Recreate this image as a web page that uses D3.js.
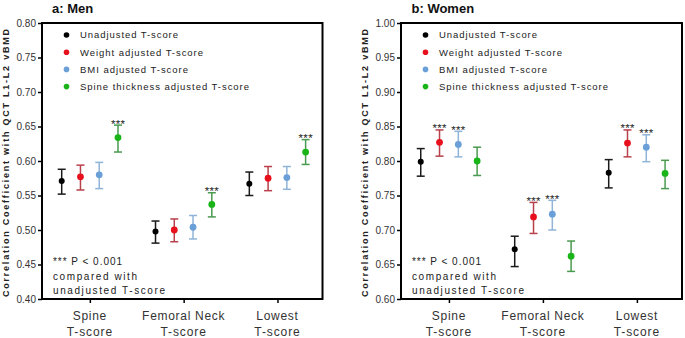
<!DOCTYPE html>
<html>
<head>
<meta charset="utf-8">
<script src="https://cdn.jsdelivr.net/npm/d3@7"></script>
<style>
  html, body { margin: 0; padding: 0; background: #fff; }
  svg { display: block; font-family: "Liberation Sans", Arial, sans-serif; }
</style>
</head>
<body>
<svg id="chart" width="685" height="338"></svg>
<script>
// ---------- DATA ----------
const categoriesLine1 = ["Spine", "Femoral Neck", "Lowest"];
const categoriesLine2 = ["T-score", "T-score", "T-score"];
const seriesNames = ["Unadjusted T-score", "Weight adjusted T-score", "BMI adjusted T-score", "Spine thickness adjusted T-score"];
const seriesPointColors = ["#000000", "#e8101c", "#6a9fd8", "#18b418"];
const seriesBarColors = ["#1a1a1a", "#b8404a", "#8fb4d8", "#4a9a50"];

// Men
const menUnadj      = [0.571, 0.498, 0.567];
const menUnadjLow   = [0.552, 0.481, 0.550];
const menUnadjHigh  = [0.588, 0.513, 0.584];
const menWeight     = [0.577, 0.500, 0.575];
const menWeightLow  = [0.558, 0.483, 0.557];
const menWeightHigh = [0.594, 0.516, 0.592];
const menBmi        = [0.580, 0.504, 0.576];
const menBmiLow     = [0.560, 0.487, 0.559];
const menBmiHigh    = [0.598, 0.521, 0.592];
const menSpine      = [0.634, 0.537, 0.613];
const menSpineLow   = [0.613, 0.519, 0.595];
const menSpineHigh  = [0.652, 0.554, 0.631];
const menSig        = [[0,0,0],[0,0,0],[0,0,0],[1,1,1]];

// Women
const womenUnadj      = [0.799, 0.672, 0.783];
const womenUnadjLow   = [0.778, 0.647, 0.761];
const womenUnadjHigh  = [0.818, 0.691, 0.802];
const womenWeight     = [0.827, 0.719, 0.826];
const womenWeightLow  = [0.807, 0.695, 0.806];
const womenWeightHigh = [0.845, 0.740, 0.845];
const womenBmi        = [0.824, 0.723, 0.820];
const womenBmiLow     = [0.806, 0.700, 0.799];
const womenBmiHigh    = [0.843, 0.743, 0.838];
const womenSpine      = [0.800, 0.662, 0.782];
const womenSpineLow   = [0.779, 0.640, 0.760];
const womenSpineHigh  = [0.820, 0.684, 0.801];
const womenSig        = [[0,0,0],[1,1,1],[1,1,1],[0,0,0]];

const menTicks   = [0.40, 0.45, 0.50, 0.55, 0.60, 0.65, 0.70, 0.75, 0.80];
const womenTicks = [0.60, 0.65, 0.70, 0.75, 0.80, 0.85, 0.90, 0.95, 1.00];

const footnoteLines = ["*** P < 0.001", "compared with", "unadjusted T-score"];
const yLabel = "Correlation  Coefficient  with  QCT  L1-L2  vBMD";

// ---------- DRAW ----------
const svg = d3.select("#chart");

function panel(opts) {
  const { left, right, top, bottom, domain, ticks, title, titleX, labelX,
          means, lows, highs, sig } = opts;
  const g = svg.append("g");
  const x = d3.scaleLinear().domain([-0.51, 2.48]).range([left, right]);
  const y = d3.scaleLinear().domain(domain).range([bottom, top]);
  const offsets = [-0.3, -0.1, 0.1, 0.3];

  // y axis ticks
  const ya = g.append("g").attr("transform", `translate(${left},0)`)
    .call(d3.axisLeft(y).tickValues(ticks).tickFormat(d3.format(".2f")).tickSize(4).tickPadding(2));
  ya.select(".domain").remove();
  ya.selectAll("line").attr("stroke", "#000").attr("stroke-width", 1.5);
  ya.selectAll("text").attr("font-size", "10px").attr("fill", "#333")
    .attr("font-family", "'Liberation Sans', Arial, sans-serif");

  // x axis ticks
  const xa = g.append("g").attr("transform", `translate(0,${bottom})`)
    .call(d3.axisBottom(x).tickValues([0,1,2]).tickSize(4).tickFormat(""));
  xa.select(".domain").remove();
  xa.selectAll("line").attr("stroke", "#000").attr("stroke-width", 1.5);

  // frame
  g.append("rect").attr("x", left).attr("y", top)
    .attr("width", right - left).attr("height", bottom - top)
    .attr("fill", "none").attr("stroke", "#000").attr("stroke-width", 2);

  // category labels
  categoriesLine1.forEach((c, i) => {
    g.append("text").attr("x", x(i)).attr("y", bottom + 21)
      .attr("text-anchor", "middle").attr("font-size", "12px").attr("fill", "#333")
      .attr("letter-spacing", "0.7px").text(c);
    g.append("text").attr("x", x(i)).attr("y", bottom + 37)
      .attr("text-anchor", "middle").attr("font-size", "12px").attr("fill", "#333")
      .attr("letter-spacing", "0.9px").text(categoriesLine2[i]);
  });

  // title
  g.append("text").attr("x", titleX).attr("y", 13)
    .attr("font-size", "13px").attr("font-weight", "bold").attr("fill", "#111")
    .text(title);

  // y label
  g.append("text")
    .attr("transform", `translate(${labelX},${(top + bottom) / 2 + 2}) rotate(-90)`)
    .attr("text-anchor", "middle").attr("font-size", "9px").attr("font-weight", "bold")
    .attr("fill", "#222").attr("dy", "0.35em")
    .attr("textLength", 268).attr("lengthAdjust", "spacing")
    .text(yLabel);

  // legend
  const legWidths = [98, 123, 108, 169];
  seriesNames.forEach((s, k) => {
    const ly = top + 12 + k * 17.2;
    g.append("circle").attr("cx", left + 24.5).attr("cy", ly).attr("r", 2.8)
      .attr("fill", seriesPointColors[k]);
    g.append("text").attr("x", left + 38).attr("y", ly).attr("dy", "0.35em")
      .attr("font-size", "9.5px").attr("fill", "#222")
      .attr("textLength", legWidths[k]).attr("lengthAdjust", "spacing")
      .text(s);
  });

  // footnote
  const footW = [69, 84, 112];
  footnoteLines.forEach((t, k) => {
    g.append("text").attr("x", left + 11).attr("y", bottom - 37.5 + k * 14.5)
      .attr("dy", "0.35em").attr("font-size", "10px").attr("fill", "#222")
      .attr("textLength", footW[k]).attr("lengthAdjust", "spacing")
      .text(t);
  });

  // error bars and points
  means.forEach((arr, k) => {
    arr.forEach((v, i) => {
      const cx = x(i + offsets[k]);
      const yl = y(lows[k][i]), yh = y(highs[k][i]);
      const col = seriesBarColors[k];
      g.append("line").attr("x1", cx).attr("x2", cx).attr("y1", yl).attr("y2", yh)
        .attr("stroke", col).attr("stroke-width", 1.5);
      [yl, yh].forEach(yy => {
        g.append("line").attr("x1", cx - 4).attr("x2", cx + 4).attr("y1", yy).attr("y2", yy)
          .attr("stroke", col).attr("stroke-width", 1.5);
      });
      g.append("circle").attr("cx", cx).attr("cy", y(v))
        .attr("r", k === 0 ? 3 : 3.4).attr("fill", seriesPointColors[k]);
      if (sig[k][i]) {
        g.append("text").attr("x", cx).attr("y", yh + 2.5)
          .attr("text-anchor", "middle").attr("font-size", "11.5px").attr("fill", "#222")
          .attr("textLength", 14).attr("lengthAdjust", "spacing")
          .text("***");
      }
    });
  });
}

panel({
  left: 42, right: 322.5, top: 23, bottom: 299,
  domain: [0.40, 0.80], ticks: menTicks, title: "a: Men", titleX: 52, labelX: 6,
  means: [menUnadj, menWeight, menBmi, menSpine],
  lows: [menUnadjLow, menWeightLow, menBmiLow, menSpineLow],
  highs: [menUnadjHigh, menWeightHigh, menBmiHigh, menSpineHigh],
  sig: menSig
});

panel({
  left: 401, right: 682, top: 23, bottom: 299,
  domain: [0.60, 1.00], ticks: womenTicks, title: "b: Women", titleX: 411.5, labelX: 365,
  means: [womenUnadj, womenWeight, womenBmi, womenSpine],
  lows: [womenUnadjLow, womenWeightLow, womenBmiLow, womenSpineLow],
  highs: [womenUnadjHigh, womenWeightHigh, womenBmiHigh, womenSpineHigh],
  sig: womenSig
});
</script>
</body>
</html>
